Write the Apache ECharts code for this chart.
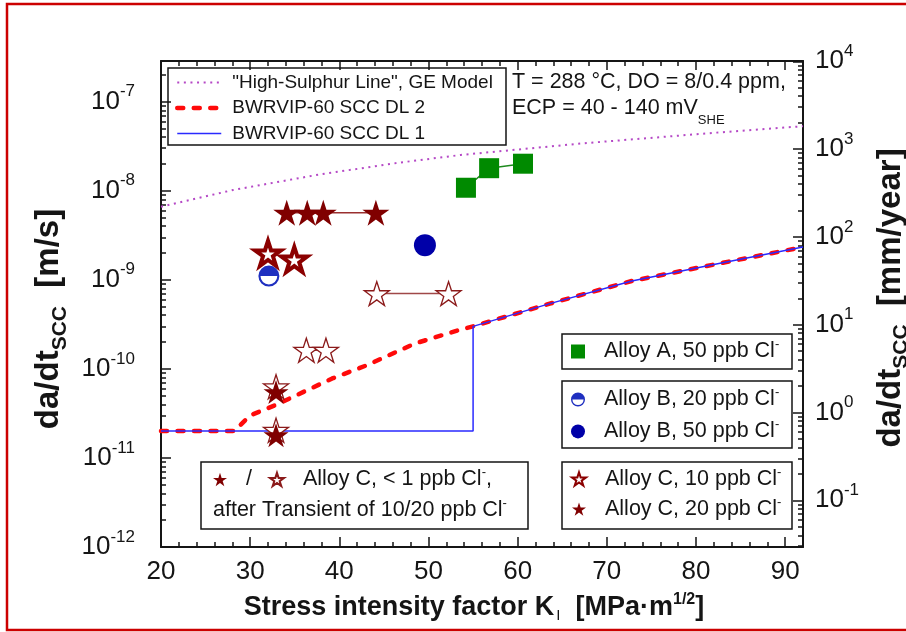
<!DOCTYPE html>
<html>
<head>
<meta charset="utf-8">
<script src="https://cdn.jsdelivr.net/npm/echarts@6/dist/echarts.min.js"></script>
<style>
html, body { margin: 0; padding: 0; background: #fff; }
#chart { width: 906px; height: 632px; }
</style>
</head>
<body>
<div id="chart"></div>
<script>
// values: K in MPa·m^1/2, da/dt in m/s
const kHighS = [20, 28.1, 37.9, 46.8, 53.6, 67.4, 82.3, 92];
const vHighS = [6.6e-9, 1.02e-8, 1.53e-8, 2.07e-8, 2.52e-8, 3.41e-8, 4.49e-8, 5.3e-8];

const kDL2 = [20, 28.2, 30, 32.8, 34.9, 39.2, 43.1, 48.5, 53.4, 55, 63.6, 72.8, 82.7, 92];
const vDL2 = [2.0e-11, 2.0e-11, 3.0e-11, 3.9e-11, 4.9e-11, 7.8e-11, 1.1e-10, 1.93e-10, 2.72e-10, 3.0e-10, 5.4e-10, 9.7e-10, 1.53e-9, 2.33e-9];

const kDL1 = [20, 55, 55, 63.6, 72.8, 82.7, 92];
const vDL1 = [2.0e-11, 2.0e-11, 3.0e-10, 5.4e-10, 9.7e-10, 1.53e-9, 2.33e-9];

const kAlloyA = [54.2, 56.8, 60.6];
const vAlloyA = [1.08e-8, 1.79e-8, 2.01e-8];

const kAlloyB20 = [32.1];
const vAlloyB20 = [1.10e-9];
const kAlloyB50 = [49.6];
const vAlloyB50 = [2.45e-9];

const kAlloyC10 = [32.0, 34.95];
const vAlloyC10 = [1.98e-9, 1.69e-9];
const kAlloyC20 = [34.1, 36.4, 38.2, 44.1];
const vAlloyC20 = [5.66e-9, 5.66e-9, 5.66e-9, 5.66e-9];

// Alloy C < 1 ppb, after transient of 20 ppb (filled) / 10 ppb (open)
const kC1after20 = [32.9, 32.9];
const vC1after20 = [5.5e-11, 1.8e-11];
const kC1after10 = [32.9, 32.9, 36.3, 38.5, 44.2, 52.25];
const vC1after10 = [6.3e-11, 2.05e-11, 1.62e-10, 1.62e-10, 7.0e-10, 7.0e-10];
const c1after10Links = [[2, 3], [4, 5]];

const xTicks = [20, 30, 40, 50, 60, 70, 80, 90];
const leftDecades = [-12, -11, -10, -9, -8, -7];
const rightDecades = [-1, 0, 1, 2, 3, 4];

const FONT = 'Liberation Sans, Arial, sans-serif';
const INK = '#151515';
const Y_MIN = 1e-12, Y_MAX = 2.86e-7;      // m/s
const R_MIN = 0.0294, R_MAX = 1.007e4;     // mm/year

const N = {
  hs: '"High-Sulphur Line", GE Model',
  dl2: 'BWRVIP-60 SCC DL 2',
  dl1: 'BWRVIP-60 SCC DL 1',
  a: 'Alloy A, 50 ppb Cl-',
  b20: 'Alloy B, 20 ppb Cl-',
  b50: 'Alloy B, 50 ppb Cl-',
  c10: 'Alloy C, 10 ppb Cl-',
  c20: 'Alloy C, 20 ppb Cl-',
  c1f: 'Alloy C, < 1 ppb Cl- (after 20 ppb)',
  c1o: 'Alloy C, < 1 ppb Cl- (after 10 ppb)'
};
const legendShown = {};
legendShown[N.c1f] = '/';
legendShown[N.c1o] = 'Alloy C, < 1 ppb Cl-,';

const STAR = 'path://M0,-10L2.245,-3.09L9.511,-3.09L3.633,1.18L5.878,8.09L0,3.82L-5.878,8.09L-3.633,1.18L-9.511,-3.09L-2.245,-3.09Z';
const HALF = 'path://M0,-10A10,10,0,1,1,0,10A10,10,0,1,1,0,-10ZM0,-8A8,8,0,1,0,0,8A8,8,0,1,0,0,-8ZM-8,0A8,8,0,0,1,8,0Z';

const pts = (k, v) => k.map((x, i) => [x, v[i]]);

const xMinor = [];
for (let x = 22; x < 92; x += 2) if (x % 10) xMinor.push(x);
function logMinor(lo, hi) {
  const out = [];
  for (let e = Math.floor(Math.log10(lo)); e <= Math.ceil(Math.log10(hi)); e++) {
    for (let m = 2; m <= 9; m++) {
      const v = m * Math.pow(10, e);
      if (v > lo && v < hi) out.push(v);
    }
  }
  return out;
}
const leftMajor = leftDecades.map(e => Math.pow(10, e));
const rightMajor = rightDecades.map(e => Math.pow(10, e));

const powRich = {
  b: { fontFamily: FONT, fontSize: 26, color: INK },
  s: { fontFamily: FONT, fontSize: 17, color: INK, padding: [0, 0, 20, 0] }
};
const powLabel = v => '{b|10}{s|' + Math.round(Math.log10(v)) + '}';
const tickLine = { color: INK, width: 1.5 };

function xAxisCfg(position, values, len, labels) {
  return {
    type: 'value', position: position, min: 20, max: 92,
    axisLine: { show: len > 6, onZero: false, lineStyle: { color: INK, width: 2 } },
    axisTick: { show: true, inside: true, length: len, customValues: values, lineStyle: tickLine },
    axisLabel: labels ? { show: true, customValues: values, margin: 12, fontFamily: FONT, fontSize: 26, color: INK } : { show: false },
    splitLine: { show: false }
  };
}
function yAxisCfg(position, min, max, values, len, labels) {
  return {
    type: 'log', logBase: 10, position: position, min: min, max: max,
    axisLine: { show: len > 6, onZero: false, lineStyle: { color: INK, width: 2 } },
    axisTick: { show: true, inside: true, length: len, customValues: values, lineStyle: tickLine },
    axisLabel: labels ? { show: true, customValues: values, margin: position === 'left' ? 26 : 12, formatter: powLabel, rich: powRich } : { show: false },
    splitLine: { show: false },
    minorTick: { show: false }
  };
}

const xMain = xAxisCfg('bottom', xTicks, 10, true);
xMain.name = '{b|Stress intensity factor K}{i|I}{b|  [MPa·m}{u|1/2}{b|]}';
xMain.nameLocation = 'middle';
xMain.nameGap = 45;
xMain.nameTextStyle = {
  padding: [0, 16, 0, 0],
  rich: {
    b: { fontFamily: FONT, fontSize: 27, fontWeight: 'bold', color: INK },
    i: { fontFamily: FONT, fontSize: 15, color: INK, padding: [16, 0, 0, 2] },
    u: { fontFamily: FONT, fontSize: 16, fontWeight: 'bold', color: INK, padding: [0, 0, 16, 0] }
  }
};

const titleRich = {
  b: { fontFamily: FONT, fontSize: 33, fontWeight: 'bold', color: INK },
  i: { fontFamily: FONT, fontSize: 21, fontWeight: 'bold', color: INK, padding: [22, 0, 0, 0] }
};
const yLeft = yAxisCfg('left', Y_MIN, Y_MAX, leftMajor, 10, true);
yLeft.name = '{b|da/dt}{i|SCC}{b|  [m/s]}';
yLeft.nameLocation = 'middle';
yLeft.nameRotate = 90;
yLeft.nameGap = 84;
yLeft.nameTextStyle = { padding: [0, 30, 0, 0], rich: titleRich };

const yRight = yAxisCfg('right', R_MIN, R_MAX, rightMajor, 10, true);
yRight.name = '{b|da/dt}{i|SCC}{b|  [mm/year]}';
yRight.nameLocation = 'middle';
yRight.nameRotate = 90;
yRight.nameGap = 66;
yRight.nameTextStyle = { padding: [0, 0, 0, 12], rich: titleRich };

const legendRich = {
  g: { width: 14 },
  s: { fontFamily: FONT, fontSize: 13, color: INK, padding: [0, 0, 14, 0] }
};
const legendFmt = name => '{g| }' + (legendShown[name] || name).replace(/Cl-/g, 'Cl{s|-}');
function legendCfg(data, left, top, gap, extra) {
  return Object.assign({
    data: data, left: left, top: top, orient: 'vertical', padding: 0,
    itemWidth: 14, itemHeight: 14, itemGap: gap, selectedMode: false,
    formatter: legendFmt,
    textStyle: { fontFamily: FONT, fontSize: 21.5, color: INK, rich: legendRich }
  }, extra || {});
}

const linkSeries = c1after10Links.map(([i, j]) => ({
  type: 'line', symbol: 'none', silent: true, z: 4,
  data: [[kC1after10[i], vC1after10[i]], [kC1after10[j], vC1after10[j]]],
  lineStyle: { color: '#a04848', width: 1.5 }
}));

const option = {
  animation: false,
  backgroundColor: '#fff',
  grid: { left: 161, right: 103, top: 61, bottom: 85, containLabel: false, outerBoundsMode: 'none' },
  xAxis: [
    xMain,
    xAxisCfg('top', xTicks, 9, false),
    xAxisCfg('bottom', xMinor, 5, false),
    xAxisCfg('top', xMinor, 5, false)
  ],
  yAxis: [
    yLeft,
    yAxisCfg('left', Y_MIN, Y_MAX, logMinor(Y_MIN, Y_MAX), 5, false),
    yRight,
    yAxisCfg('right', R_MIN, R_MAX, logMinor(R_MIN, R_MAX), 5, false)
  ],
  legend: [
    legendCfg([N.hs, N.dl2, N.dl1], 175, 73, 6.5, {
      itemWidth: 44,
      formatter: name => '{g| }' + name,
      textStyle: { fontFamily: FONT, fontSize: 19, color: INK, rich: { g: { width: 6 } } },
      itemStyle: { opacity: 0 },
      lineStyle: { width: 'inherit' }
    }),
    legendCfg([N.a], 571, 338, 6),
    legendCfg([N.b20, N.b50], 571, 386, 7.4),
    legendCfg([N.c10, N.c20], 571, 465.5, 5.6),
    legendCfg([N.c1f, N.c1o], 213, 466, 17, { orient: 'horizontal' })
  ],
  graphic: [
    { type: 'rect', shape: { x: 7, y: 4, width: 1000, height: 626 }, style: { fill: 'none', stroke: '#cc0000', lineWidth: 2.5 }, silent: true },
    { type: 'rect', shape: { x: 168, y: 68, width: 338, height: 77 }, style: { fill: 'none', stroke: INK, lineWidth: 1.5 }, silent: true },
    { type: 'rect', shape: { x: 562, y: 334, width: 230, height: 35 }, style: { fill: 'none', stroke: INK, lineWidth: 1.5 }, silent: true },
    { type: 'rect', shape: { x: 562, y: 381, width: 230, height: 67 }, style: { fill: 'none', stroke: INK, lineWidth: 1.5 }, silent: true },
    { type: 'rect', shape: { x: 562, y: 462, width: 230, height: 67 }, style: { fill: 'none', stroke: INK, lineWidth: 1.5 }, silent: true },
    { type: 'rect', shape: { x: 201, y: 462, width: 327, height: 67 }, style: { fill: 'none', stroke: INK, lineWidth: 1.5 }, silent: true },
    { type: 'text', x: 512, y: 82, silent: true,
      style: { text: 'T = 288 °C, DO = 8/0.4 ppm,', font: '21.5px ' + FONT, fill: INK, verticalAlign: 'middle' } },
    { type: 'text', x: 512, y: 108, silent: true,
      style: { text: 'ECP = 40 - 140 mV{u|SHE}', font: '21.5px ' + FONT, fill: INK, verticalAlign: 'middle',
        rich: { u: { fontFamily: FONT, fontSize: 13, fill: INK, padding: [24, 0, 0, 0] } } } },
    { type: 'text', x: 213, y: 510, silent: true,
      style: { text: 'after Transient of 10/20 ppb Cl{s|-}', font: '21.5px ' + FONT, fill: INK, verticalAlign: 'middle',
        rich: { s: { fontFamily: FONT, fontSize: 13, fill: INK, padding: [0, 0, 14, 0] } } } }
  ],
  series: [
    { name: N.hs, type: 'line', data: pts(kHighS, vHighS), symbol: 'none', z: 2, silent: true,
      itemStyle: { color: '#b548c6' },
      lineStyle: { color: '#b548c6', width: 2, type: [2, 4.6] } },
    { name: N.dl2, type: 'line', data: pts(kDL2, vDL2), symbol: 'none', z: 2, silent: true,
      itemStyle: { color: '#ff0a0a' },
      lineStyle: { color: '#ff0a0a', width: 4.5, type: [6, 10.5], cap: 'round' } },
    { name: N.dl1, type: 'line', data: pts(kDL1, vDL1), symbol: 'none', z: 3, silent: true,
      itemStyle: { color: '#2a2aff' },
      lineStyle: { color: '#2a2aff', width: 1.5 } },
    { type: 'line', data: pts(kAlloyA, vAlloyA), symbol: 'none', z: 4, silent: true,
      lineStyle: { color: '#1e8a1e', width: 1.5 } },
    { type: 'line', data: pts(kAlloyC20, vAlloyC20), symbol: 'none', z: 4, silent: true,
      lineStyle: { color: '#9a3030', width: 1.5 } },
    ...linkSeries,
    { name: N.a, type: 'scatter', data: pts(kAlloyA, vAlloyA), symbol: 'rect', symbolSize: 20, z: 5,
      itemStyle: { color: '#008a00', opacity: 1 } },
    { name: N.b20, type: 'scatter', data: pts(kAlloyB20, vAlloyB20), symbol: HALF, symbolSize: 21, z: 5,
      itemStyle: { color: '#1f2fc0', opacity: 1 } },
    { name: N.b50, type: 'scatter', data: pts(kAlloyB50, vAlloyB50), symbol: 'circle', symbolSize: 22, z: 5,
      itemStyle: { color: '#0000a8', opacity: 1 } },
    { name: N.c10, type: 'scatter', data: pts(kAlloyC10, vAlloyC10), symbol: STAR, symbolSize: [26, 25], z: 5,
      itemStyle: { color: '#fff', borderColor: '#8b0000', borderWidth: 4, opacity: 1 } },
    { name: N.c20, type: 'scatter', data: pts(kAlloyC20, vAlloyC20), symbol: STAR, symbolSize: [27, 26], z: 5,
      itemStyle: { color: '#800000', opacity: 1 } },
    { name: N.c1o, type: 'scatter', data: pts(kC1after10, vC1after10), symbol: STAR, symbolSize: [25, 24], z: 5,
      itemStyle: { color: '#fff', borderColor: '#8b1a1a', borderWidth: 1.3, opacity: 1 } },
    { name: N.c1f, type: 'scatter', data: pts(kC1after20, vC1after20), symbol: STAR, symbolSize: [25, 24], z: 6,
      itemStyle: { color: '#800000', opacity: 1 } }
  ]
};

const chart = echarts.init(document.getElementById('chart'));
chart.setOption(option);
</script>
</body>
</html>
